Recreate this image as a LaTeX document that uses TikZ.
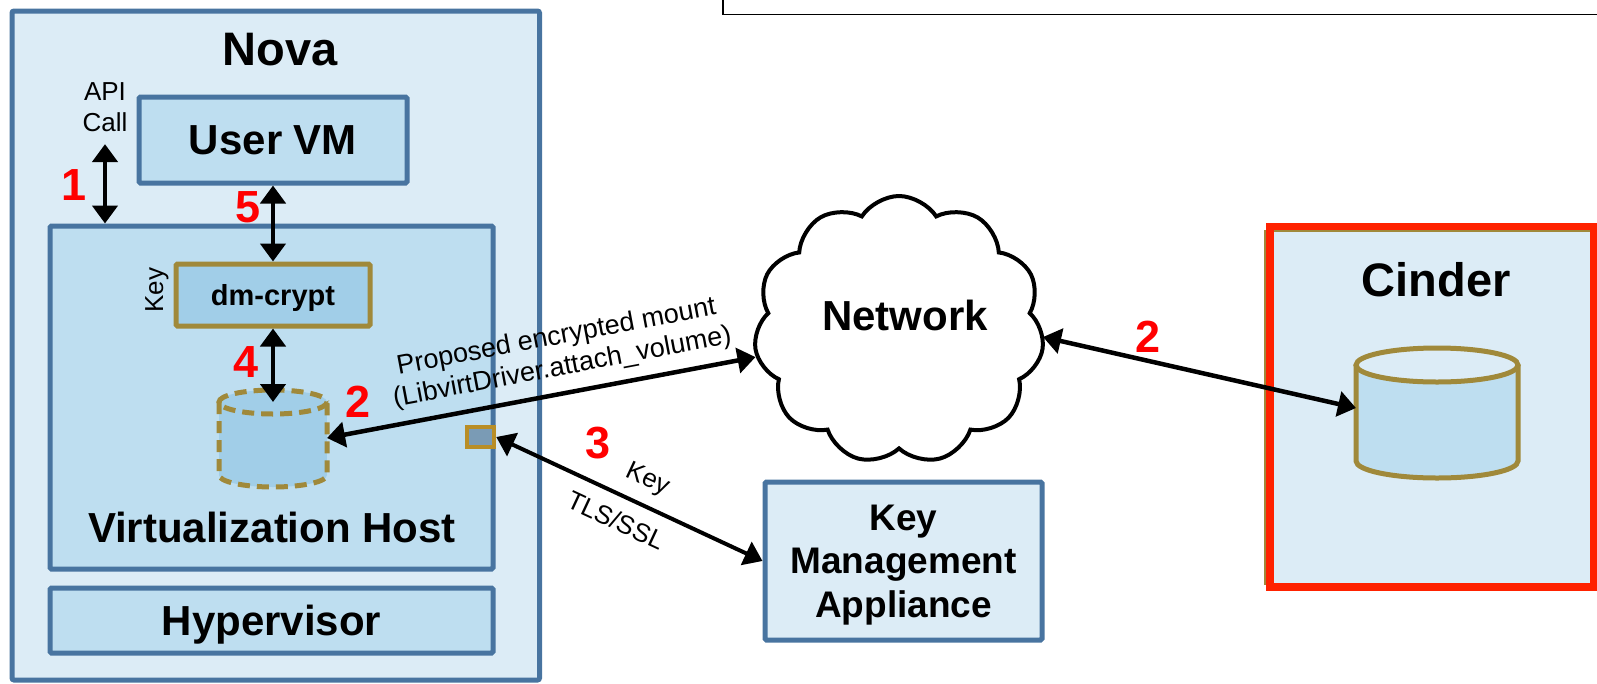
\documentclass[tikz,border=0pt]{standalone}
\usepackage{fontspec}
\setmainfont{Liberation Sans}
\usetikzlibrary{positioning}
\usetikzlibrary{shapes.symbols}
\usetikzlibrary{arrows.meta}
\definecolor{novafill}{RGB}{220,236,246}
\definecolor{boxfill}{RGB}{190,222,240}
\definecolor{cryptfill}{RGB}{161,206,232}
\definecolor{steel}{RGB}{72,116,160}
\definecolor{drab}{RGB}{160,137,58}
\definecolor{vhgold}{RGB}{185,142,38}
\definecolor{slot}{RGB}{122,155,181}
\definecolor{cinderred}{RGB}{255,34,0}
\tikzset{
  box/.style={draw=steel, line width=5pt, rounded corners=1.5pt, inner sep=0pt, text depth=0pt,
    font=\bfseries\fontsize{42}{50}\selectfont},
  dbl/.style={{Triangle[length=18pt,width=25pt]}-{Triangle[length=18pt,width=25pt]}, line width=4.5pt},
  num/.style={text=red, font=\bfseries\fontsize{45}{50}\selectfont},
  small/.style={font=\fontsize{26}{31}\selectfont},
}

\begin{document}
\begin{tikzpicture}[x=1pt, y=-1pt]
    \clip (0,0) rectangle (1597,683);
    \draw[line width=1.5pt] (723,-10) -- (723,14.5) -- (1610,14.5);
    \draw[steel, fill=novafill, line width=5pt, rounded corners=2pt] (12,11) rectangle (539.5,680);
    \node[font=\bfseries\fontsize{47}{56}\selectfont] (nova) at (280,50) {Nova};
    \node[box, fill=boxfill, minimum width=268, minimum height=86] (uvm) at (273,140) {User VM};
    \node[box, fill=boxfill, minimum width=443, minimum height=343] (vh) at (271.5,397.5) {};
    \node[font=\bfseries\fontsize{42}{50}\selectfont, text depth=0pt] (vhtext) at (272,527) {Virtualization Host};
    \node[box, fill=boxfill, minimum width=443, minimum height=65] (hyp) at (271.5,620.5) {Hypervisor};
    \node[box, draw=drab, fill=cryptfill, minimum width=194, minimum height=62,
      font=\bfseries\fontsize{29}{34}\selectfont] (dm) at (273,295) {dm-crypt};
    \node[small, rotate=90] (dmkey) at (157,290) {Key};
    \node[small, align=center] (api) at (105,107) {API\\Call};

    % encrypted volume
    \fill[cryptfill] (219,402) rectangle (327,475);
    \fill[cryptfill] (273,475) ellipse[x radius=54, y radius=12];
    \fill[cryptfill] (273,402) ellipse[x radius=54, y radius=12];
    \draw[drab, line width=5pt, dash pattern=on 12pt off 7pt]
      (219,402) -- (219,475) arc[start angle=180, end angle=0, x radius=54, y radius=12] -- (327,402);
    \draw[drab, line width=5pt, dash pattern=on 12pt off 7pt] (273,402) ellipse[x radius=54, y radius=12];
    \coordinate (vol) at (327,438);
    \coordinate (voltop) at (273,402);
    \node[draw=vhgold, fill=slot, line width=4.5pt, minimum width=27, minimum height=20, inner sep=0pt] (port) at (480.5,437) {};

    \node[cloud, draw, line width=4pt, fill=white, cloud puffs=11, cloud puff arc=115, aspect=1.15,
      minimum width=290, minimum height=268, inner sep=0pt] (net) at (899,330) {};
    \node[font=\bfseries\fontsize{42}{50}\selectfont] (nettext) at (905,315) {Network};
    \node[box, fill=novafill, minimum width=277, minimum height=158, align=center,
      font=\bfseries\fontsize{37}{43.5}\selectfont] (kma) at (903.5,561) {Key\\Management\\Appliance};

    \fill[novafill] (1270,226.5) rectangle (1594,587);
    \draw[drab, line width=1.5pt] (1265,231) rectangle (1620,584);
    \node[draw=cinderred, line width=7.5pt, minimum width=324, minimum height=360.5] (cinder) at (1432,406.75) {};
    \node[font=\bfseries\fontsize{47}{56}\selectfont] (cindertext) at (1436,280) {Cinder};

    % cinder volume
    \fill[boxfill] (1356,365) rectangle (1518,461);
    \fill[boxfill] (1437,461) ellipse[x radius=81, y radius=17];
    \draw[drab, line width=5pt, fill=boxfill]
      (1356,365) -- (1356,461) arc[start angle=180, end angle=0, x radius=81, y radius=17] -- (1518,365);
    \draw[drab, line width=5pt, fill=novafill] (1437,365) ellipse[x radius=81, y radius=17];
    \coordinate (disk) at (1356,408);

    \draw[dbl] ([yshift=-9pt]api.south) -- (api.south |- vh.north);
    \draw[dbl] (uvm.south) -- (dm.north);
    \draw[dbl] (dm.south) -- (voltop);
    \draw[dbl] (vol) -- (net)
      node[font=\fontsize{27}{31}\selectfont, sloped, above=7pt, pos=0.56, align=center] {Proposed encrypted mount\\(LibvirtDriver.attach\_volume)};
    \draw[dbl] ([yshift=-7pt]net.east) -- (disk);
    \draw[dbl, line width=4pt] (port.east) -- (kma.west)
      node[small, sloped, above=8pt, pos=0.53] {Key}
      node[small, sloped, below=10pt, pos=0.49] {TLS/SSL};

    \node[num] (n1) at (74,185) {1};
    \node[num] (n5) at (248,207) {5};
    \node[num] (n4) at (246,362) {4};
    \node[num] (n2a) at (358,402) {2};
    \node[num] (n3) at (598,443) {3};
    \node[num] (n2b) at (1148,337) {2};
\end{tikzpicture}
\end{document}
